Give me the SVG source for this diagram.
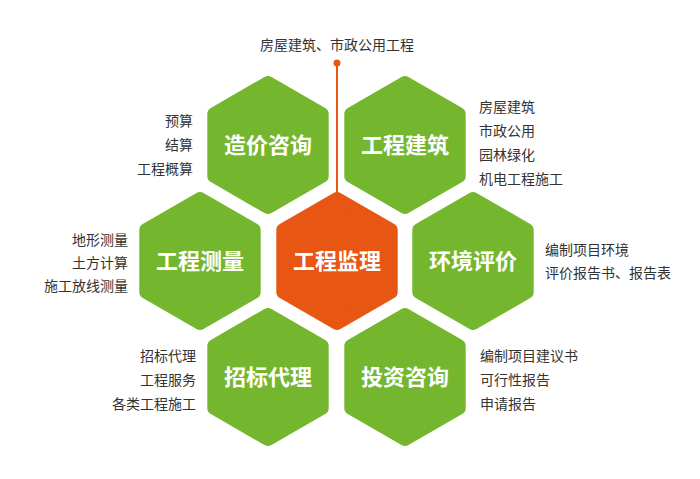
<svg xmlns="http://www.w3.org/2000/svg" width="700" height="479" viewBox="0 0 700 479">
<style>
.hex{stroke-width:14;stroke-linejoin:round}
.g{fill:#74b72e;stroke:#74b72e}
.o{fill:#e85614;stroke:#e85614}
.t{font-family:"Noto Sans CJK SC",sans-serif;font-size:22px;font-weight:bold;fill:#fff;text-anchor:middle}
.l{font-family:"Noto Sans CJK SC",sans-serif;font-size:14px;fill:#333}
.r{text-anchor:end}
</style>
<defs><path id="h" d="M0,-62 L53.7,-31 L53.7,31 L0,62 L-53.7,31 L-53.7,-31 Z"/></defs>
<rect width="700" height="479" fill="#fff"/>
<g id="connectors"><line x1="337" y1="63" x2="337" y2="200" stroke="#e85614" stroke-width="2"/><circle cx="337" cy="63" r="3.5" fill="#e85614"/></g>
<text class="l" x="337" y="50" text-anchor="middle">房屋建筑、市政公用工程</text>
<g id="n1"><use href="#h" class="hex g" x="268" y="145"/><text class="t" x="268" y="153">造价咨询</text>
<text class="l r" x="193" y="126">预算</text><text class="l r" x="193" y="150">结算</text><text class="l r" x="193" y="174">工程概算</text></g>
<g id="n2"><use href="#h" class="hex g" x="405" y="145"/><text class="t" x="405" y="153">工程建筑</text>
<text class="l" x="479" y="112">房屋建筑</text><text class="l" x="479" y="136">市政公用</text><text class="l" x="479" y="160">园林绿化</text><text class="l" x="479" y="184">机电工程施工</text></g>
<g id="n3"><use href="#h" class="hex o" x="337" y="261"/><text class="t" x="337" y="269">工程监理</text></g>
<g id="n4"><use href="#h" class="hex g" x="200" y="261"/><text class="t" x="200" y="269">工程测量</text>
<text class="l r" x="128" y="245">地形测量</text><text class="l r" x="128" y="268">土方计算</text><text class="l r" x="128" y="291">施工放线测量</text></g>
<g id="n5"><use href="#h" class="hex g" x="473" y="261"/><text class="t" x="473" y="269">环境评价</text>
<text class="l" x="545" y="255">编制项目环境</text><text class="l" x="545" y="278">评价报告书、报告表</text></g>
<g id="n6"><use href="#h" class="hex g" x="268" y="377"/><text class="t" x="268" y="385">招标代理</text>
<text class="l r" x="196" y="361">招标代理</text><text class="l r" x="196" y="385">工程服务</text><text class="l r" x="196" y="409">各类工程施工</text></g>
<g id="n7"><use href="#h" class="hex g" x="405" y="377"/><text class="t" x="405" y="385">投资咨询</text>
<text class="l" x="480" y="361">编制项目建议书</text><text class="l" x="480" y="385">可行性报告</text><text class="l" x="480" y="409">申请报告</text></g>
</svg>
